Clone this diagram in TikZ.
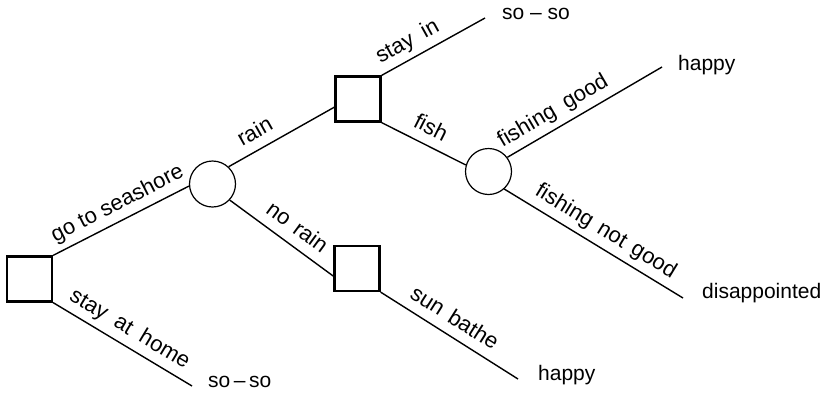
\documentclass[tikz,border=0pt]{standalone}
\usepackage{fontspec}
\setmainfont{Liberation Sans}
\begin{document}
\begin{tikzpicture}[x=1pt,y=-1pt,
  dec/.style={draw, line width=2.2pt, minimum size=45pt, inner sep=0pt},
  chance/.style={draw, circle, line width=1.2pt, minimum size=46pt, inner sep=0pt},
  br/.style={line width=1.4pt},
  lbl/.style={sloped, above=5pt, inner sep=0pt, text height=14pt, text depth=5pt,
              font=\fontsize{22}{24}\selectfont},
  leaf/.style={anchor=base west, inner sep=0pt, font=\fontsize{21}{24}\selectfont}]
\useasboundingbox (0,0) rectangle (831,392);
% decision and chance nodes
\node[dec] (s1) at (29.5,279) {};
\node[chance] (c1) at (212.5,184) {};
\node[dec] (s2) at (358,99) {};
\node[chance] (c2) at (488.5,171.5) {};
\node[dec] (s3) at (357,268.5) {};
% free ends
\coordinate (e1) at (192,386);
\coordinate (e2) at (485,18);
\coordinate (e3) at (662,67);
\coordinate (e4) at (683,298);
\coordinate (e5) at (518,379);
% outcomes
\node[leaf] (t1) at (208,387) {so\,–\,so};
\node[leaf] (t2) at (502,19) {so – so};
\node[leaf] (t3) at (678,70) {happy};
\node[leaf] (t4) at (702,298) {disappointed};
\node[leaf] (t5) at (538,380) {happy};
% branches
\draw[br] (s1.north east) -- node[lbl,pos=.53]{go to seashore} (c1.185);
\draw[br] (s1.south east) -- node[lbl,pos=.49]{stay\hspace{0.5em}at\hspace{0.5em}home} (e1);
\draw[br] (c1.47) -- node[lbl,pos=.33]{rain} (s2.199);
\draw[br] (c1.317) -- node[lbl,pos=.55]{no\hspace{0.4em}rain} (s3.198);
\draw[br] (s2.north east) -- node[lbl,pos=.33]{stay\hspace{0.5em}in} (e2);
\draw[br] (s2.south east) -- node[lbl,pos=.49]{fish} (c2.164);
\draw[br] (c2.37) -- node[lbl,pos=.35]{fishing\hspace{0.5em}good} (e3);
\draw[br] (c2.312) -- node[lbl,pos=.52]{fishing\hspace{0.4em}not\hspace{0.4em}good} (e4);
\draw[br] (s3.south east) -- node[lbl,pos=.47]{sun\hspace{0.4em}bathe} (e5);
\end{tikzpicture}
\end{document}
